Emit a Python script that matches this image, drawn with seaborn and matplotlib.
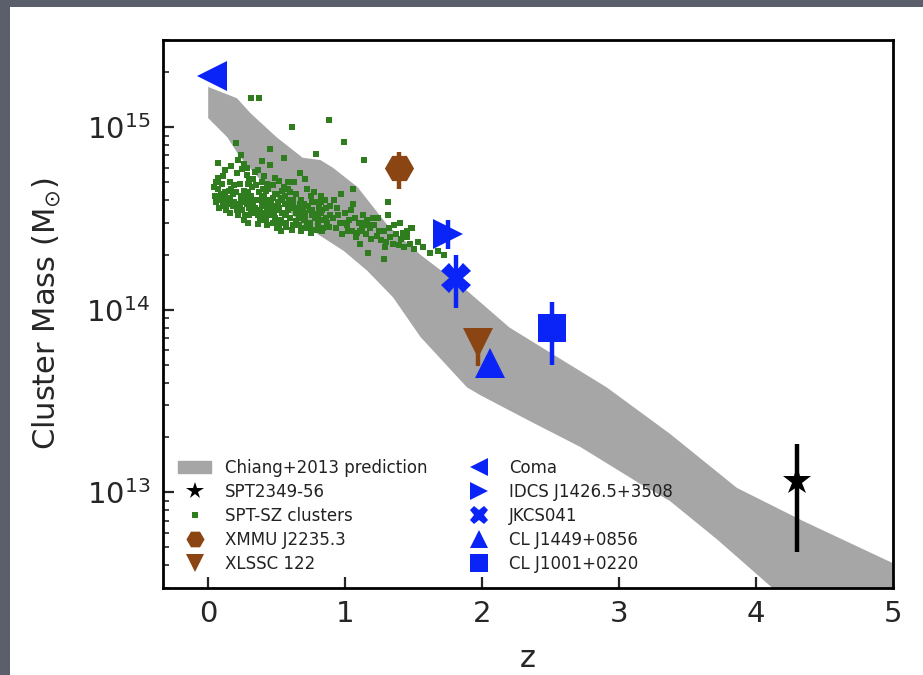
import numpy as np
import matplotlib
matplotlib.use("Agg")
import matplotlib.pyplot as plt
from matplotlib.patches import Patch, Rectangle
import seaborn as sns

# ---------------- data ----------------
# Chiang+2013 prediction band (upper / lower edges)
band_up_z = [0, 0.21, 0.31, 0.50, 0.69, 0.82, 0.91, 1.09, 1.31, 1.55, 1.86, 2.20, 2.47, 2.91, 3.37, 3.86, 4.34, 5.0]
band_up_m = [1.66e15, 1.44e15, 1.19e15, 8.8e14, 6.8e14, 6.6e14, 6.0e14, 4.7e14, 2.9e14, 2.0e14, 1.33e14,
             8.0e13, 6.0e13, 3.76e13, 2.1e13, 1.06e13, 7.0e12, 4.1e12]
band_lo_z = [0, 0.14, 0.23, 0.45, 0.67, 0.99, 1.16, 1.35, 1.55, 1.89, 1.99, 2.33, 2.72, 3.15, 3.37, 3.72, 4.12, 5.0]
band_lo_m = [1.12e15, 8.8e14, 6.9e14, 4.5e14, 3.0e14, 2.1e14, 1.64e14, 1.17e14, 7.1e13, 3.76e13, 3.4e13,
             2.5e13, 1.77e13, 1.12e13, 9.0e12, 5.5e12, 3.0e12, 8.1e11]

# SPT-SZ clusters (mass in units of 1e14 Msun)
sz_z_a = [0.04, 0.06, 0.07, 0.09, 0.11, 0.12, 0.14, 0.05, 0.08, 0.10, 0.13, 0.15, 0.06, 0.09, 0.12, 0.14, 0.07, 0.11]
sz_m_a = [4.7, 3.9, 5.3, 4.3, 3.7, 5.8, 4.1, 4.2, 3.6, 4.9, 3.5, 4.5, 5.0, 4.0, 4.4, 3.8, 4.6, 5.4]
sz_z_b = [0.16, 0.17, 0.19, 0.21, 0.23, 0.24, 0.26, 0.28, 0.29, 0.31, 0.33, 0.34,
          0.16, 0.18, 0.20, 0.22, 0.25, 0.27, 0.30, 0.32, 0.35,
          0.17, 0.19, 0.21, 0.24, 0.26, 0.28, 0.31, 0.33,
          0.18, 0.22, 0.25, 0.29, 0.34,
          0.20, 0.23, 0.27, 0.30, 0.32,
          0.16, 0.24, 0.28]
sz_m_b = [3.4, 4.6, 3.9, 5.6, 3.6, 4.2, 6.3, 3.8, 4.9, 3.5, 5.2, 4.0,
          5.0, 3.7, 4.4, 3.3, 5.9, 4.1, 3.6, 4.7, 3.4,
          6.1, 4.8, 3.5, 3.9, 4.5, 5.5, 4.2, 3.7,
          4.3, 6.6, 3.5, 4.4, 5.7,
          3.8, 4.9, 3.3, 5.1, 4.0,
          4.0, 7.0, 6.0]
sz_z_c = [0.36, 0.37, 0.39, 0.41, 0.42, 0.44, 0.46, 0.47, 0.49, 0.51, 0.52, 0.54, 0.56, 0.57, 0.59,
          0.36, 0.38, 0.40, 0.43, 0.45, 0.48, 0.50, 0.53, 0.55, 0.58, 0.60,
          0.37, 0.39, 0.42, 0.44, 0.47, 0.49, 0.52, 0.54, 0.57, 0.59,
          0.38, 0.41, 0.43, 0.46, 0.48, 0.51, 0.53, 0.56, 0.58,
          0.40, 0.45, 0.50, 0.55, 0.60,
          0.39, 0.44, 0.52]
sz_m_c = [3.3, 4.4, 3.7, 5.4, 3.1, 4.0, 3.5, 4.8, 3.2, 3.9, 5.1, 3.4, 4.2, 3.0, 3.7,
          5.8, 3.5, 4.6, 3.6, 6.2, 3.3, 4.3, 3.1, 4.7, 3.5, 3.2,
          4.0, 6.5, 3.8, 3.3, 4.1, 5.3, 3.6, 4.5, 3.3, 4.0,
          3.1, 4.2, 4.9, 3.8, 3.6, 3.0, 4.0, 3.8, 5.0,
          3.9, 3.4, 3.5, 3.0, 4.4,
          5.0, 4.6, 2.9]
sz_z_d = [0.61, 0.62, 0.64, 0.66, 0.67, 0.69, 0.71, 0.72, 0.74, 0.76, 0.77, 0.79, 0.81, 0.82, 0.84, 0.86, 0.87, 0.89,
          0.63, 0.65, 0.68, 0.70, 0.73, 0.75, 0.78, 0.80, 0.83, 0.85, 0.88,
          0.62, 0.66, 0.69, 0.72, 0.76, 0.79, 0.82, 0.86, 0.89,
          0.64, 0.71, 0.74, 0.81,
          0.67, 0.77, 0.84]
sz_m_d = [3.6, 2.9, 4.3, 3.2, 3.8, 2.8, 3.4, 4.6, 3.0, 3.5, 2.75, 3.9, 3.1, 3.4, 2.8, 3.6, 3.0, 3.3,
          5.0, 3.5, 4.0, 3.1, 3.7, 4.2, 3.2, 2.9, 3.5, 4.0, 2.85,
          4.0, 2.9, 3.5, 3.0, 3.9, 3.35, 4.2, 3.2, 3.7,
          3.4, 5.2, 2.85, 3.6,
          5.6, 4.4, 3.1]
sz_z_e = [0.91, 0.93, 0.94, 0.96, 0.98, 1.00, 1.01, 1.03, 1.05, 1.06, 1.08, 1.10, 1.12, 1.13, 1.15, 1.17, 1.19,
          0.92, 0.95, 0.99, 1.02, 1.04, 1.07, 1.11, 1.14, 1.18,
          0.97, 1.09, 1.16]
sz_m_e = [3.2, 2.8, 3.6, 3.0, 2.6, 3.4, 2.9, 3.1, 2.7, 3.8, 2.5, 3.0, 2.8, 3.3, 2.6, 2.9, 2.45,
          4.0, 3.3, 3.0, 2.7, 3.5, 3.2, 2.7, 3.0, 2.8,
          4.3, 2.65, 3.1]
sz_z_f = [1.21, 1.23, 1.24, 1.26, 1.28, 1.30, 1.32, 1.33, 1.35, 1.37, 1.39, 1.41, 1.43, 1.45, 1.47, 1.50, 1.53,
          1.57, 1.62, 1.68, 1.72,
          1.25, 1.31, 1.36, 1.42, 1.48, 1.29]
sz_m_f = [2.9, 2.55, 3.2, 2.4, 2.7, 2.35, 2.8, 2.5, 2.3, 2.6, 2.25, 2.45, 2.2, 2.5, 2.3, 2.15, 2.35,
          2.2, 2.05, 2.1, 2.0,
          2.7, 3.3, 2.9, 2.65, 2.8, 2.2]
sz_z_g = [0.26, 0.29, 0.33, 0.36, 0.40, 0.43, 0.47, 0.50, 0.53, 0.57, 0.61, 0.64, 0.68, 0.72, 0.75, 0.79, 0.83,
          0.27, 0.31, 0.35, 0.39, 0.42, 0.46, 0.49, 0.54, 0.58, 0.62, 0.66, 0.70, 0.74, 0.78, 0.82,
          0.30, 0.34, 0.41, 0.48, 0.52, 0.56, 0.63, 0.67, 0.71, 0.76, 0.80]
sz_m_g = [3.1, 3.0, 3.4, 2.95, 3.2, 2.9, 3.0, 2.8, 2.7, 2.85, 2.75, 3.05, 2.7, 2.8, 2.65, 2.75, 2.7,
          4.4, 3.9, 4.8, 4.2, 4.5, 4.0, 4.3, 4.1, 4.6, 3.9, 3.6, 3.8, 3.5, 3.3, 3.9,
          3.3, 3.6, 3.4, 3.7, 3.5, 3.3, 3.6, 3.4, 3.2, 3.3, 3.15]
sz_z_out = [0.31, 0.37, 0.88, 0.61, 0.99, 1.14, 0.79, 1.06, 1.20, 1.31, 1.40, 1.45, 1.49, 1.28, 1.17, 1.11,
            0.07, 0.20, 0.45, 0.55]
sz_m_out = [14.5, 14.5, 11.0, 10.0, 8.3, 6.6, 7.1, 4.6, 3.2, 3.9, 3.0, 2.7, 2.8, 1.9, 2.05, 2.3,
            6.4, 8.2, 7.6, 6.8]

# individual clusters: name, z, M, M_low, M_high
names = ["SPT2349-56", "XMMU J2235.3", "XLSSC 122", "Coma", "IDCS J1426.5+3508",
         "JKCS041", "CL J1449+0856", "CL J1001+0220"]
cl_z = [4.30, 1.39, 1.97, 0.03, 1.75, 1.81, 2.06, 2.51]
cl_m = [1.16e13, 6.0e14, 6.6e13, 1.9e15, 2.6e14, 1.5e14, 5.1e13, 8.0e13]
cl_lo = [4.7e12, 4.6e14, 4.9e13, 1.9e15, 2.15e14, 1.02e14, 4.6e13, 5.0e13]
cl_hi = [1.85e13, 7.3e14, 7.9e13, 1.9e15, 3.1e14, 2.0e14, 5.6e13, 1.1e14]

# ---------------- style ----------------
BLUE = "#0a24f8"
BROWN = "#8b4513"
GREEN = "#2f7d1f"
GRAY = "#a6a6a6"
cl_color = ["black", BROWN, BROWN, BLUE, BLUE, BLUE, BLUE, BLUE]
cl_marker = ["*", "H", "v", "<", ">", "X", "^", "s"]
cl_ms = [21, 21, 21, 22, 21, 21, 21, 20]

sns.set_style("ticks")
plt.rcParams["font.family"] = ["DejaVu Sans"]

fig = plt.figure(figsize=(9.23, 6.75), dpi=100)
fig.patch.set_facecolor("#5a5f6b")
fig.patches.append(Rectangle((10 / 923, 0), 1, 1 - 7 / 675, transform=fig.transFigure,
                             facecolor="white", edgecolor="none", zorder=-10))
ax = fig.add_axes([163 / 923, 1 - 588 / 675, (893 - 163) / 923, (588 - 40) / 675])

# band
poly_z = np.concatenate([band_up_z, band_lo_z[::-1]])
poly_m = np.concatenate([band_up_m, band_lo_m[::-1]])
ax.fill(poly_z, poly_m, color=GRAY, lw=0, zorder=1)

# SPT-SZ clusters
sz_z = np.concatenate([sz_z_a, sz_z_b, sz_z_c, sz_z_d, sz_z_e, sz_z_f, sz_z_g, sz_z_out])
sz_m = np.concatenate([sz_m_a, sz_m_b, sz_m_c, sz_m_d, sz_m_e, sz_m_f, sz_m_g, sz_m_out]) * 1e14
sns.scatterplot(x=sz_z, y=sz_m, marker="s", s=13, color=GREEN, linewidth=0, ax=ax,
                zorder=3, legend=False)

handles = {}
for n, z, m, lo, hi, c, mk, ms in zip(names, cl_z, cl_m, cl_lo, cl_hi, cl_color, cl_marker, cl_ms):
    eb = ax.errorbar([z], [m], yerr=[[m - lo], [hi - m]], fmt=mk, color=c, ms=ms,
                     mec=c, mew=0, elinewidth=3.2, capsize=0, zorder=5)
    handles[n] = eb[0]

ax.set_yscale("log")
ax.set_xlim(-0.33, 5.0)
ax.set_ylim(3e12, 3e15)
ax.set_xticks([0, 1, 2, 3, 4, 5])
ax.set_xlabel("z", fontsize=22, labelpad=11)
ax.set_ylabel(r"Cluster Mass (M$_{\odot}$)", fontsize=22, labelpad=17)
ax.tick_params(axis="both", which="both", direction="in", top=False, right=False)
ax.tick_params(axis="both", which="major", length=8, width=1.6, labelsize=21, pad=9)
ax.tick_params(axis="y", which="minor", length=4, width=1.2)
for s in ax.spines.values():
    s.set_linewidth(2)
    s.set_color("black")

# legend
sz_proxy = plt.Line2D([], [], marker="s", ls="none", color=GREEN, ms=4.5, mew=0)
leg_handles = [Patch(color=GRAY), handles["SPT2349-56"], sz_proxy, handles["XMMU J2235.3"],
               handles["XLSSC 122"], handles["Coma"], handles["IDCS J1426.5+3508"],
               handles["JKCS041"], handles["CL J1449+0856"], handles["CL J1001+0220"]]
leg_labels = ["Chiang+2013 prediction", "SPT2349-56", "SPT-SZ clusters", "XMMU J2235.3",
              "XLSSC 122", "Coma", "IDCS J1426.5+3508", "JKCS041", "CL J1449+0856", "CL J1001+0220"]
leg = ax.legend(leg_handles, leg_labels, ncol=2, loc="lower left", bbox_to_anchor=(0.0, 0.0),
                frameon=False, fontsize=12, markerscale=0.62, handlelength=2.0,
                handletextpad=0.8, columnspacing=2.1, labelspacing=0.36, borderaxespad=0.5)
for t in leg.get_texts():
    t.set_color("#222222")
for h in leg.legend_handles:
    if isinstance(h, plt.Line2D) and h.get_markersize() < 4:
        h.set_markersize(4.5)

fig.savefig("out.png", dpi=100, facecolor=fig.get_facecolor())
